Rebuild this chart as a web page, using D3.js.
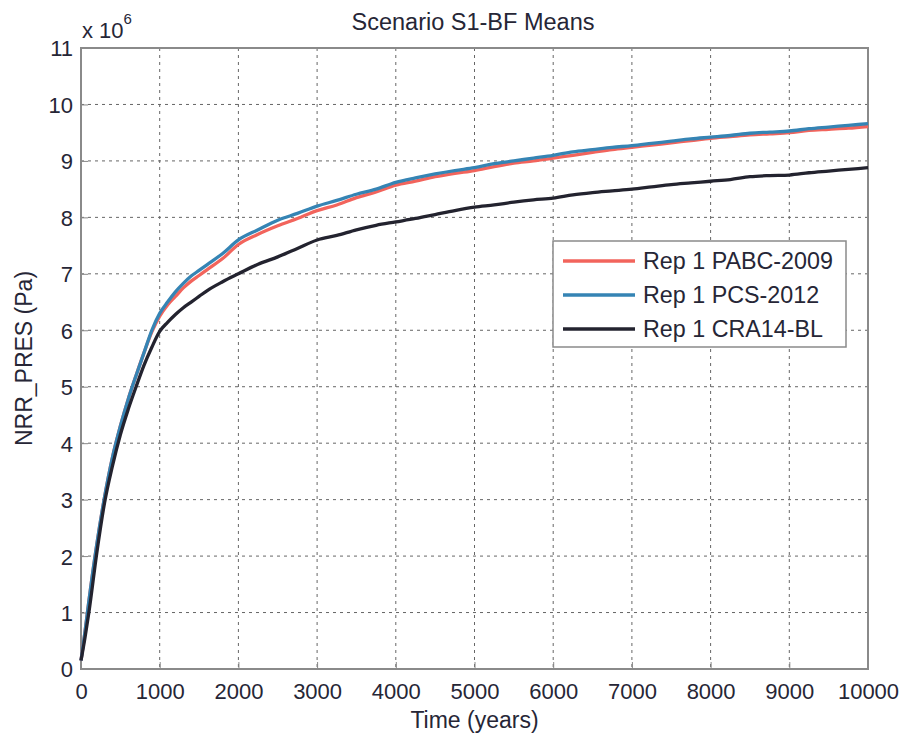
<!DOCTYPE html>
<html>
<head>
<meta charset="utf-8">
<script src="https://cdn.jsdelivr.net/npm/d3@7.9.0/dist/d3.min.js"></script>
<style>
  body { margin: 0; background: #fff; }
  text { font-family: "Liberation Sans", Arial, sans-serif; fill: #262636; }
</style>
</head>
<body>
<svg id="chart" width="905" height="738"></svg>
<script>
// time in years
const times = [0, 50, 100, 200, 300, 400, 500, 600, 700, 800, 900, 1000, 1100, 1200, 1300, 1400, 1500, 1600, 1800, 2000,
  2250, 2500, 2750, 3000, 3250, 3500, 3750, 4000, 4250, 4500, 4750, 5000, 5250, 5500, 5750, 6000, 6250, 6500, 6750,
  7000, 7250, 7500, 7750, 8000, 8250, 8500, 8750, 9000, 9250, 9500, 9750, 10000];

// pressure, x 10^6 Pa
const pabc2009 = [0.15, 0.65, 1.2, 2.2, 3.05, 3.75, 4.3, 4.78, 5.2, 5.6, 5.97, 6.25, 6.45, 6.6, 6.75, 6.87, 6.97, 7.07, 7.27, 7.52,
  7.7, 7.85, 7.98, 8.12, 8.22, 8.35, 8.45, 8.57, 8.64, 8.72, 8.78, 8.83, 8.9, 8.96, 9.0, 9.05, 9.1, 9.15, 9.2,
  9.24, 9.28, 9.32, 9.36, 9.4, 9.43, 9.46, 9.48, 9.5, 9.54, 9.56, 9.58, 9.61];
const pcs2012 = [0.15, 0.65, 1.2, 2.2, 3.05, 3.75, 4.3, 4.78, 5.2, 5.6, 6.0, 6.3, 6.5, 6.68, 6.83, 6.96, 7.06, 7.16, 7.36, 7.6,
  7.78, 7.95, 8.07, 8.2, 8.3, 8.41, 8.5, 8.62, 8.7, 8.77, 8.83, 8.88, 8.95, 9.0, 9.05, 9.1, 9.16, 9.2, 9.24,
  9.27, 9.31, 9.35, 9.39, 9.42, 9.45, 9.49, 9.51, 9.53, 9.57, 9.6, 9.63, 9.66];
const cra14bl = [0.15, 0.55, 1.0, 2.05, 2.95, 3.6, 4.15, 4.6, 5.0, 5.38, 5.7, 5.98, 6.14, 6.28, 6.4, 6.5, 6.6, 6.7, 6.86, 7.0,
  7.17, 7.3, 7.45, 7.6, 7.68, 7.78, 7.86, 7.92, 7.98, 8.05, 8.12, 8.18, 8.22, 8.27, 8.31, 8.34, 8.4, 8.44, 8.47,
  8.5, 8.54, 8.58, 8.61, 8.64, 8.67, 8.72, 8.74, 8.75, 8.79, 8.82, 8.85, 8.88];

const seriesNames = ['Rep 1 PABC-2009', 'Rep 1 PCS-2012', 'Rep 1 CRA14-BL'];
const seriesColors = ['#f2645c', '#3584b4', '#23232f'];
const xTicks = [0, 1000, 2000, 3000, 4000, 5000, 6000, 7000, 8000, 9000, 10000];
const yTicks = [0, 1, 2, 3, 4, 5, 6, 7, 8, 9, 10, 11];

const svg = d3.select('#chart');
const plotL = 81, plotR = 868, plotT = 48, plotB = 669;

const x = d3.scaleLinear().domain([0, 10000]).range([plotL, plotR]);
const y = d3.scaleLinear().domain([0, 11]).range([plotB, plotT]);

// grid
svg.append('g')
  .selectAll('line')
  .data(xTicks.slice(1, -1))
  .join('line')
  .attr('x1', d => x(d)).attr('x2', d => x(d))
  .attr('y1', plotT).attr('y2', plotB)
  .attr('stroke', '#666').attr('stroke-width', 1).attr('stroke-dasharray', '3,4');
svg.append('g')
  .selectAll('line')
  .data(yTicks.slice(1, -1))
  .join('line')
  .attr('x1', plotL).attr('x2', plotR)
  .attr('y1', d => y(d)).attr('y2', d => y(d))
  .attr('stroke', '#666').attr('stroke-width', 1).attr('stroke-dasharray', '3,4');

// axes (matlab style, inward ticks)
const xAxis = d3.axisBottom(x).tickValues(xTicks).tickFormat(d3.format('d')).tickSizeInner(-7).tickSizeOuter(0).tickPadding(14);
const yAxis = d3.axisLeft(y).tickValues(yTicks).tickFormat(d3.format('d')).tickSizeInner(-7).tickSizeOuter(0).tickPadding(8);

const gx = svg.append('g').attr('transform', `translate(0,${plotB})`).call(xAxis);
const gy = svg.append('g').attr('transform', `translate(${plotL},0)`).call(yAxis);
[gx, gy].forEach(g => {
  g.select('.domain').remove();
  g.selectAll('line').attr('stroke', '#888');
  g.selectAll('text').attr('font-size', 22).attr('fill', '#262636');
});
gy.selectAll('text').attr('dy', '0.36em');

// box
svg.append('rect')
  .attr('x', plotL).attr('y', plotT)
  .attr('width', plotR - plotL).attr('height', plotB - plotT)
  .attr('fill', 'none').attr('stroke', '#8a8a8a').attr('stroke-width', 2);

// lines
const line = d3.line()
  .x((d, i) => x(times[i]))
  .y(d => y(d))
  .curve(d3.curveMonotoneX);

[pabc2009, pcs2012, cra14bl].forEach((vals, i) => {
  svg.append('path')
    .datum(vals)
    .attr('d', line)
    .attr('fill', 'none')
    .attr('stroke', seriesColors[i])
    .attr('stroke-width', 3.3)
    .attr('stroke-linejoin', 'round');
});

// title and labels
svg.append('text')
  .attr('x', 473).attr('y', 30)
  .attr('text-anchor', 'middle').attr('font-size', 23.5)
  .text('Scenario S1-BF Means');

svg.append('text')
  .attr('x', (plotL + plotR) / 2).attr('y', 728)
  .attr('text-anchor', 'middle').attr('font-size', 23)
  .text('Time (years)');

svg.append('text')
  .attr('transform', `translate(32,${(plotT + plotB) / 2}) rotate(-90)`)
  .attr('text-anchor', 'middle').attr('font-size', 23)
  .text('NRR_PRES (Pa)');

const expo = svg.append('text')
  .attr('x', 82).attr('y', 38).attr('font-size', 22);
expo.append('tspan').text('x 10');
expo.append('tspan').attr('dy', -14).attr('font-size', 15).text('6');

// legend
const lg = svg.append('g');
lg.append('rect')
  .attr('x', 553).attr('y', 241).attr('width', 293).attr('height', 106)
  .attr('fill', '#fff').attr('stroke', '#8a8a8a').attr('stroke-width', 1.5);

seriesNames.forEach((name, i) => {
  const ly = 261 + i * 34;
  lg.append('line')
    .attr('x1', 563).attr('x2', 635)
    .attr('y1', ly).attr('y2', ly)
    .attr('stroke', seriesColors[i]).attr('stroke-width', 3.3);
  lg.append('text')
    .attr('x', 643).attr('y', ly).attr('dy', '0.36em')
    .attr('font-size', 23.3)
    .text(name);
});
</script>
</body>
</html>
